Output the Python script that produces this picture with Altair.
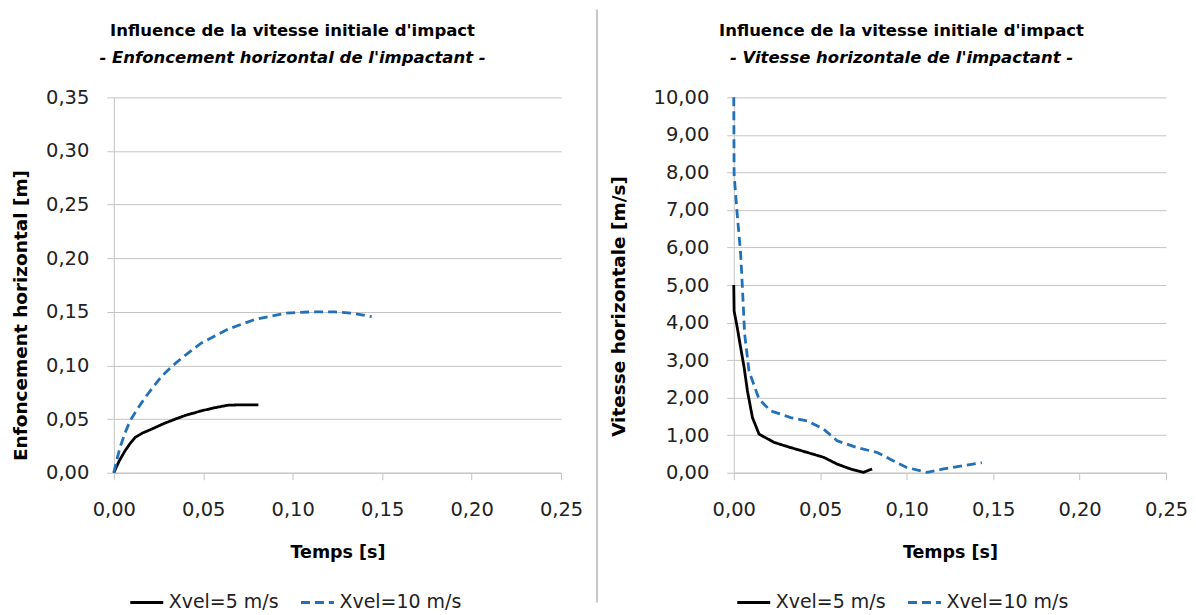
import altair as alt
import pandas as pd

FONT = "DejaVu Sans"
SERIES = ["Xvel=5 m/s", "Xvel=10 m/s"]
COLORS = ["#000000", "#2271B8"]
DASHES = [[1, 0], [9, 5]]

TITLE_L = ["Influence de la vitesse initiale d'impact", "- Enfoncement horizontal de l'impactant -"]
TITLE_R = ["Influence de la vitesse initiale d'impact", "- Vitesse horizontale de l'impactant -"]
YTITLE_L = "Enfoncement horizontal [m]"
YTITLE_R = "Vitesse horizontale [m/s]"
XTITLE = "Temps [s]"

X_TICKS = [0, 0.05, 0.10, 0.15, 0.20, 0.25]
Y_TICKS_L = [0, 0.05, 0.10, 0.15, 0.20, 0.25, 0.30, 0.35]
Y_TICKS_R = [0, 1, 2, 3, 4, 5, 6, 7, 8, 9, 10]

# Left panel: horizontal penetration [m]
t_l5 = [0, 0.003, 0.0063, 0.009, 0.0119, 0.016, 0.0212, 0.0275, 0.0343, 0.041, 0.049, 0.056, 0.064, 0.072, 0.0808]
d_l5 = [0, 0.011, 0.0205, 0.027, 0.0329, 0.037, 0.0407, 0.0455, 0.050, 0.054, 0.0577, 0.0605, 0.063, 0.0633, 0.0633]
t_l10 = [0, 0.0015, 0.0035, 0.006, 0.0091, 0.013, 0.0175, 0.022, 0.0268, 0.032, 0.038, 0.049, 0.064, 0.079, 0.0957, 0.1106, 0.1236, 0.1348, 0.1441]
d_l10 = [0, 0.011, 0.0236, 0.036, 0.0484, 0.059, 0.070, 0.080, 0.090, 0.0985, 0.107, 0.121, 0.134, 0.143, 0.1487, 0.150, 0.150, 0.1484, 0.1455]

# Right panel: horizontal velocity [m/s]
t_r5 = [0, 0.0002, 0.002, 0.004, 0.006, 0.0079, 0.0108, 0.0146, 0.0232, 0.0329, 0.0425, 0.052, 0.0598, 0.0675, 0.075, 0.080]
v_r5 = [5.0, 4.31, 3.87, 3.33, 2.80, 2.18, 1.47, 1.03, 0.81, 0.67, 0.54, 0.41, 0.23, 0.10, 0.01, 0.10]
t_r10 = [0, 0.0002, 0.002, 0.004, 0.005, 0.0063, 0.0088, 0.0146, 0.0213, 0.0329, 0.0425, 0.052, 0.0598, 0.0713, 0.0829, 0.0905, 0.100, 0.1117, 0.1213, 0.133, 0.1435]
v_r10 = [10.0, 7.94, 6.88, 5.82, 4.93, 3.69, 2.71, 1.96, 1.65, 1.47, 1.38, 1.16, 0.85, 0.67, 0.54, 0.36, 0.14, 0.01, 0.10, 0.19, 0.27]


def frame(ts, vs, name):
    return pd.DataFrame({"t": ts, "v": vs, "serie": name})


left_df = pd.concat([frame(t_l5, d_l5, SERIES[0]), frame(t_l10, d_l10, SERIES[1])])
right_df = pd.concat([frame(t_r5, v_r5, SERIES[0]), frame(t_r10, v_r10, SERIES[1])])

LABEL_EXPR = "replace(format(datum.value, '.2f'), '.', ',')"
GRID = "#C4C4C4"
H = 376


def panel(data, W, ydomain, yticks, ytitle, ytitle_y, ytitle_pad, titles, title_x,
          legend_x, sep_x, sep_opacity):
    x = alt.X("t:Q", scale=alt.Scale(domain=[0, 0.25], nice=False, zero=False),
              axis=alt.Axis(values=X_TICKS, labelExpr=LABEL_EXPR, title=XTITLE, grid=False,
                            labelFlush=False, labelOverlap=False,
                            tickSize=7, tickColor=GRID, domainColor=GRID, labelPadding=21,
                            labelFont=FONT, labelFontSize=19.5, labelColor="#222222",
                            titleFont=FONT, titleFontSize=17.5, titleFontWeight="bold",
                            titleColor="#000000", titlePadding=24))
    y = alt.Y("v:Q", scale=alt.Scale(domain=ydomain, nice=False),
              axis=alt.Axis(values=yticks, labelExpr=LABEL_EXPR, title=ytitle, grid=True,
                            labelFlush=False, labelOverlap=False,
                            gridColor=GRID, tickSize=7, tickColor=GRID, domainColor=GRID,
                            labelPadding=18, labelFont=FONT, labelFontSize=19.5,
                            labelColor="#222222", titleFont=FONT, titleFontSize=18.5,
                            titleFontWeight="bold", titleColor="#000000",
                            titlePadding=ytitle_pad, titleY=ytitle_y))
    legend = alt.Legend(title=None, orient="none", legendX=legend_x, legendY=H + 112,
                        direction="horizontal", symbolType="stroke", symbolSize=1089,
                        symbolStrokeWidth=3, labelFont=FONT, labelFontSize=19,
                        labelColor="#222222", columnPadding=15, labelOffset=4, padding=0)
    lines = alt.Chart(data).mark_line(strokeWidth=2.8, strokeCap="butt").encode(
        x=x, y=y,
        color=alt.Color("serie:N", scale=alt.Scale(domain=SERIES, range=COLORS), legend=legend),
        strokeDash=alt.StrokeDash("serie:N", scale=alt.Scale(domain=SERIES, range=DASHES), legend=legend),
    )
    t1 = alt.Chart(pd.DataFrame({"txt": [titles[0]]})).mark_text(
        font=FONT, fontSize=16.5, fontWeight="bold", align="center", baseline="alphabetic",
        color="#000000").encode(x=alt.value(title_x), y=alt.value(-61), text="txt:N")
    t2 = alt.Chart(pd.DataFrame({"txt": [titles[1]]})).mark_text(
        font=FONT, fontSize=16.5, fontWeight="bold", fontStyle="italic", align="center",
        baseline="alphabetic", color="#000000").encode(x=alt.value(title_x), y=alt.value(-34), text="txt:N")
    sep = alt.Chart(pd.DataFrame({"s": [0]})).mark_rule(
        color="#C8C8C8", strokeWidth=2, opacity=sep_opacity).encode(
        x=alt.value(sep_x), y=alt.value(-88), y2=alt.value(H + 130))
    return alt.layer(sep, lines, t1, t2).properties(width=W, height=H)


left = panel(left_df, 448, [0, 0.35], Y_TICKS_L, YTITLE_L, 218, 15, TITLE_L, 179, 15, 0, 0)
right = panel(right_df, 433, [0, 10], Y_TICKS_R, YTITLE_R, 209, 25, TITLE_R, 168, 2, -137, 1)

chart = alt.hconcat(left, right, spacing=13).resolve_scale(
    color="independent", strokeDash="independent"
).properties(padding={"left": 3, "top": 0, "right": 0, "bottom": 0}).configure_view(stroke=None)

chart.save("out.html", embed_options={"renderer": "svg", "actions": False})
